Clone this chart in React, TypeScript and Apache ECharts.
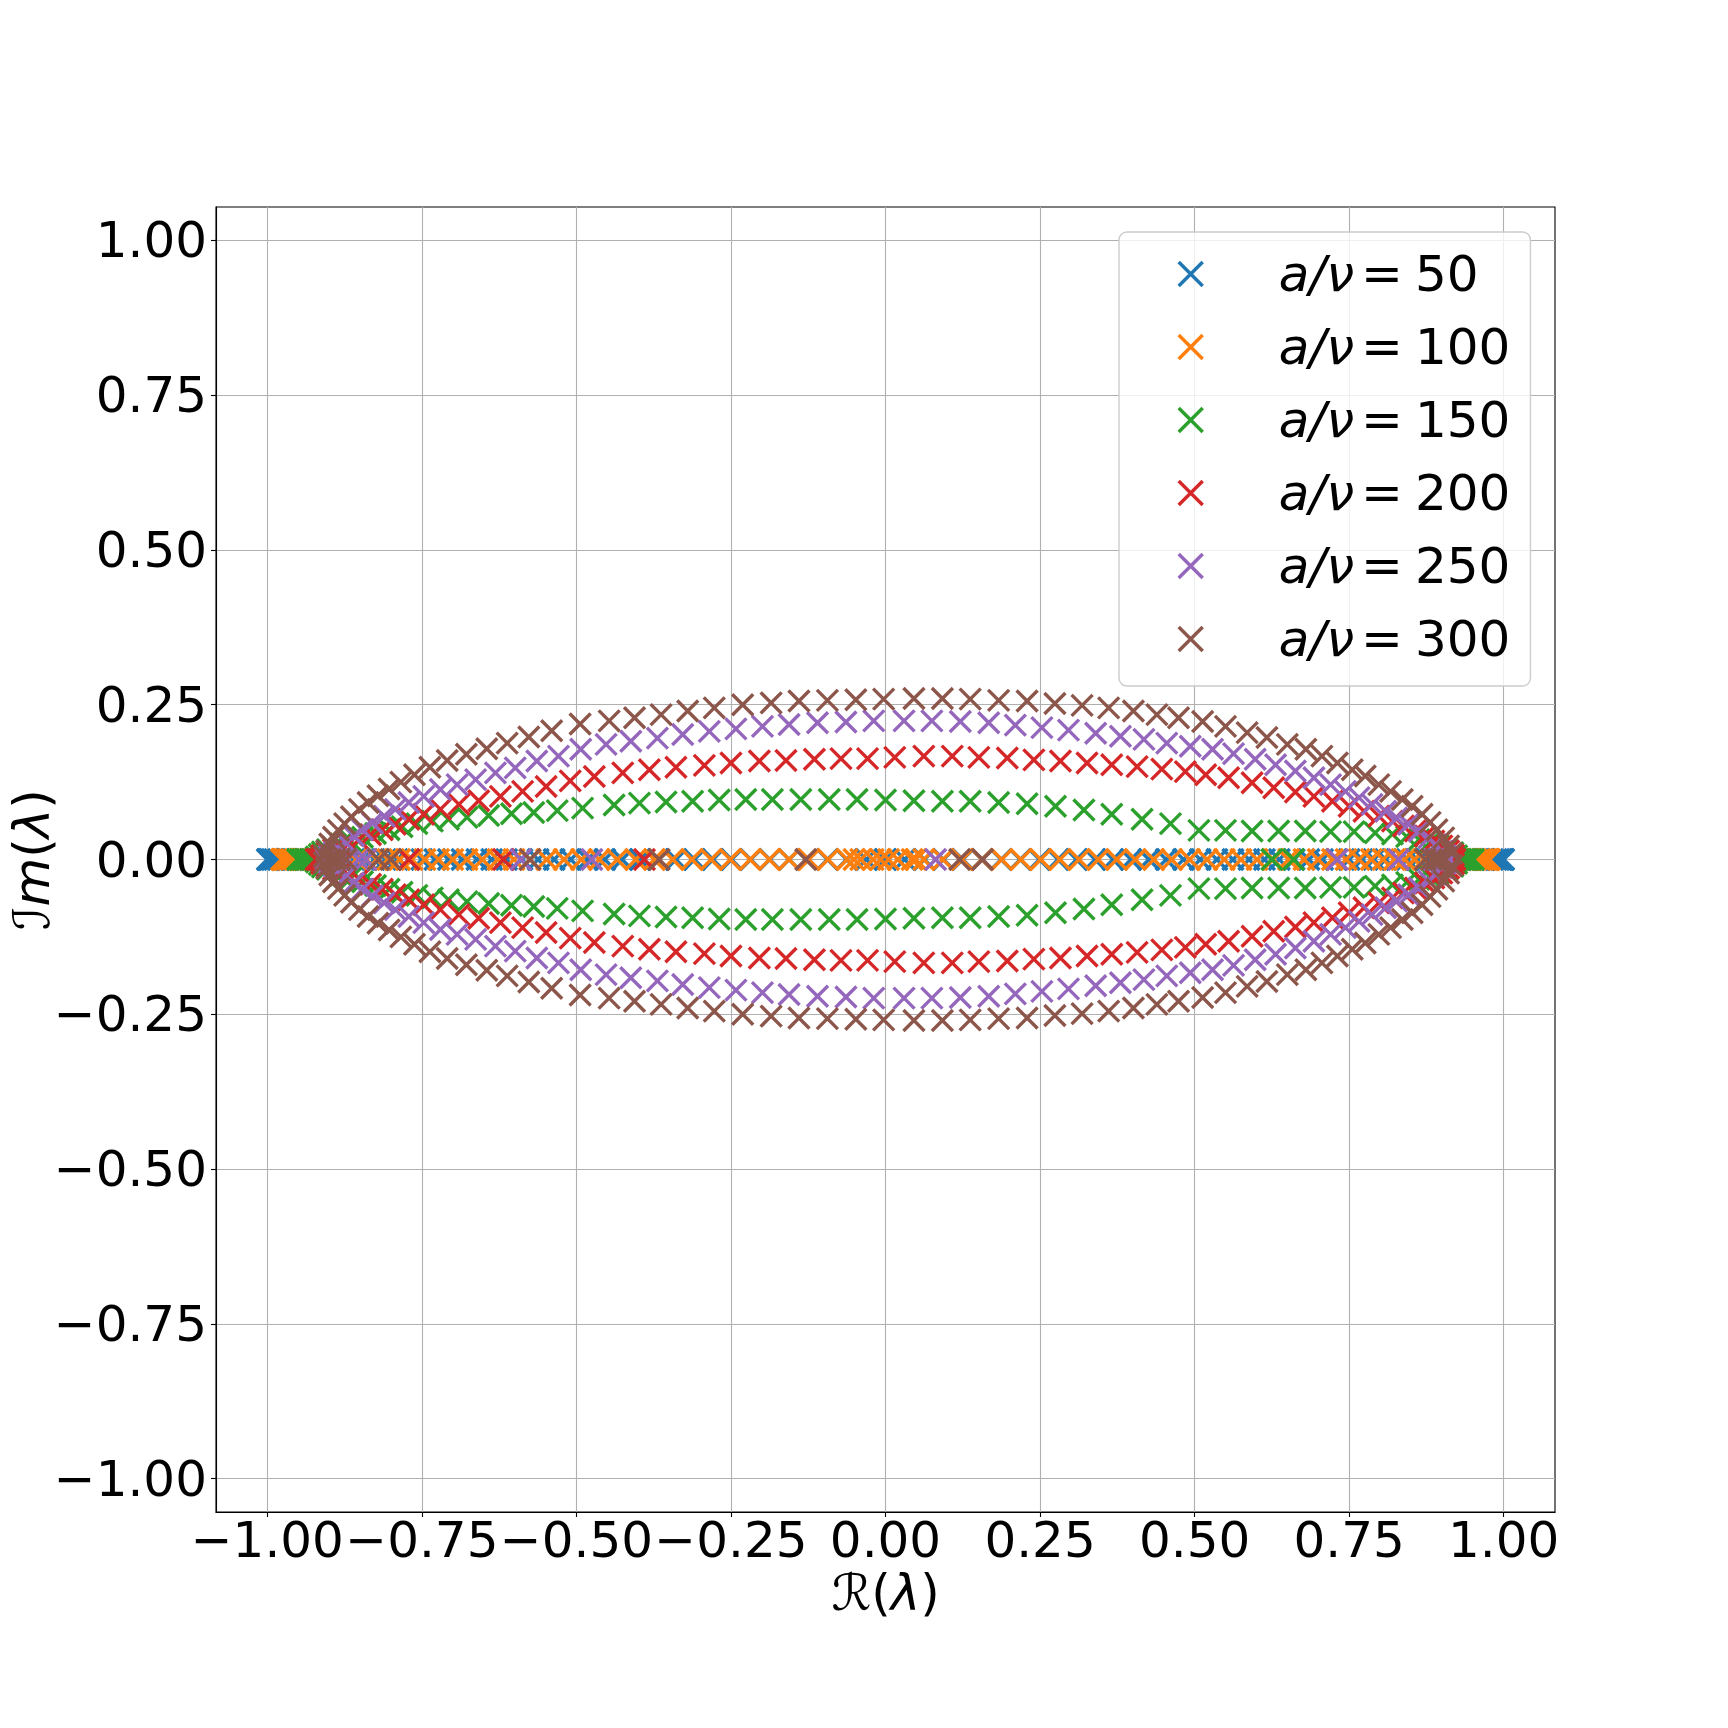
import React, { useEffect, useRef } from "react";
import * as echarts from "echarts";

const colors = ["#1f77b4", "#ff7f0e", "#2ca02c", "#d62728", "#9467bd", "#8c564b"];
const ratios = [50, 100, 150, 200, 250, 300];
const tickValues = [-1, -0.75, -0.5, -0.25, 0, 0.25, 0.5, 0.75, 1];

// a/nu = 50 : all eigenvalues real
const blueRe = [-1.0, -0.9995, -0.998, -0.9956, -0.992, -0.988, -0.982, -0.976, -0.968, -0.96, -0.951, -0.941, -0.929, -0.917, -0.904, -0.891, -0.876, -0.86, -0.844, -0.827, -0.809, -0.79, -0.771, -0.75, -0.729, -0.707, -0.685, -0.661, -0.637, -0.613, -0.588, -0.562, -0.536, -0.509, -0.482, -0.454, -0.426, -0.397, -0.368, -0.339, -0.309, -0.279, -0.249, -0.218, -0.187, -0.156, -0.125, -0.094, -0.063, -0.031, 0.0, 0.031, 0.063, 0.094, 0.125, 0.156, 0.187, 0.218, 0.249, 0.279, 0.309, 0.339, 0.368, 0.397, 0.426, 0.454, 0.482, 0.509, 0.536, 0.562, 0.588, 0.613, 0.637, 0.661, 0.685, 0.707, 0.729, 0.75, 0.771, 0.79, 0.809, 0.827, 0.844, 0.86, 0.876, 0.891, 0.904, 0.917, 0.929, 0.941, 0.951, 0.96, 0.968, 0.976, 0.982, 0.988, 0.992, 0.9956, 0.998, 0.9995, 1.0];

// a/nu = 100 : real
const orangeRe = [-0.977, -0.976, -0.975, -0.973, -0.97, -0.966, -0.961, -0.955, -0.948, -0.94, -0.931, -0.921, -0.91, -0.898, -0.885, -0.871, -0.856, -0.84, -0.823, -0.805, -0.786, -0.766, -0.745, -0.723, -0.7, -0.677, -0.652, -0.627, -0.601, -0.575, -0.548, -0.52, -0.492, -0.463, -0.434, -0.404, -0.374, -0.344, -0.313, -0.282, -0.251, -0.219, -0.188, -0.156, -0.124, -0.093, -0.062, -0.051, -0.04, -0.02, -0.008, 0.005, 0.02, 0.043, 0.049, 0.062, 0.093, 0.124, 0.156, 0.188, 0.219, 0.251, 0.282, 0.313, 0.344, 0.374, 0.404, 0.434, 0.463, 0.492, 0.52, 0.548, 0.575, 0.601, 0.627, 0.652, 0.677, 0.7, 0.723, 0.745, 0.766, 0.786, 0.805, 0.823, 0.84, 0.856, 0.871, 0.885, 0.898, 0.91, 0.921, 0.931, 0.94, 0.948, 0.955, 0.961, 0.966, 0.97, 0.973, 0.975, 0.976, 0.977];

// a/nu = 150
const greenRe = [-0.951, -0.947, -0.943, -0.939, -0.935, -0.931, -0.927, -0.923, 0.625, 0.66, 0.923, 0.927, 0.931, 0.935, 0.939, 0.943, 0.947, 0.951];
const greenUpper = [[-0.921, 0.004], [-0.916, 0.008], [-0.911, 0.012], [-0.903, 0.016], [-0.894, 0.02], [-0.881, 0.025], [-0.865, 0.03], [-0.846, 0.036], [-0.825, 0.042], [-0.803, 0.048], [-0.782, 0.053], [-0.758, 0.058], [-0.733, 0.062], [-0.707, 0.065], [-0.677, 0.068], [-0.642, 0.071], [-0.605, 0.074], [-0.569, 0.076], [-0.531, 0.079], [-0.49, 0.083], [-0.439, 0.088], [-0.398, 0.091], [-0.355, 0.093], [-0.312, 0.094], [-0.269, 0.096], [-0.226, 0.097], [-0.183, 0.097], [-0.137, 0.097], [-0.091, 0.097], [-0.046, 0.097], [0.0, 0.096], [0.046, 0.095], [0.092, 0.094], [0.137, 0.094], [0.183, 0.092], [0.229, 0.09], [0.275, 0.086], [0.321, 0.08], [0.366, 0.073], [0.415, 0.065], [0.461, 0.058], [0.507, 0.047], [0.55, 0.047], [0.593, 0.046], [0.636, 0.046], [0.679, 0.046], [0.72, 0.045], [0.758, 0.045], [0.792, 0.043], [0.82, 0.041], [0.843, 0.037], [0.863, 0.032], [0.88, 0.027], [0.895, 0.022], [0.909, 0.016], [0.918, 0.011], [0.924, 0.006]];
const greenLower = [[-0.921, -0.004], [-0.916, -0.008], [-0.911, -0.012], [-0.903, -0.016], [-0.894, -0.02], [-0.881, -0.025], [-0.865, -0.03], [-0.846, -0.036], [-0.825, -0.042], [-0.803, -0.048], [-0.782, -0.053], [-0.758, -0.058], [-0.733, -0.062], [-0.707, -0.065], [-0.677, -0.068], [-0.642, -0.071], [-0.605, -0.074], [-0.569, -0.076], [-0.531, -0.079], [-0.49, -0.083], [-0.439, -0.088], [-0.398, -0.091], [-0.355, -0.093], [-0.312, -0.094], [-0.269, -0.096], [-0.226, -0.097], [-0.183, -0.097], [-0.137, -0.097], [-0.091, -0.097], [-0.046, -0.097], [0.0, -0.096], [0.046, -0.095], [0.092, -0.094], [0.137, -0.094], [0.183, -0.092], [0.229, -0.09], [0.275, -0.086], [0.321, -0.08], [0.366, -0.073], [0.415, -0.065], [0.461, -0.058], [0.507, -0.047], [0.55, -0.047], [0.593, -0.046], [0.636, -0.046], [0.679, -0.046], [0.72, -0.045], [0.758, -0.045], [0.792, -0.043], [0.82, -0.041], [0.843, -0.037], [0.863, -0.032], [0.88, -0.027], [0.895, -0.022], [0.909, -0.016], [0.918, -0.011], [0.924, -0.006]];

// a/nu = 200
const redRe = [-0.921, -0.918, -0.915, -0.912, -0.771, -0.618, -0.39, 0.912, 0.915, 0.918, 0.921];
const redUpper = [[-0.912, 0.006], [-0.903, 0.011], [-0.893, 0.016], [-0.881, 0.021], [-0.868, 0.026], [-0.852, 0.032], [-0.833, 0.04], [-0.814, 0.048], [-0.793, 0.057], [-0.771, 0.065], [-0.747, 0.073], [-0.72, 0.081], [-0.69, 0.089], [-0.658, 0.095], [-0.623, 0.102], [-0.587, 0.11], [-0.549, 0.118], [-0.51, 0.127], [-0.471, 0.134], [-0.425, 0.14], [-0.382, 0.145], [-0.339, 0.149], [-0.293, 0.152], [-0.25, 0.156], [-0.204, 0.159], [-0.161, 0.16], [-0.115, 0.162], [-0.072, 0.163], [-0.029, 0.163], [0.015, 0.165], [0.062, 0.167], [0.108, 0.167], [0.151, 0.165], [0.197, 0.164], [0.24, 0.161], [0.283, 0.159], [0.326, 0.156], [0.366, 0.153], [0.407, 0.15], [0.447, 0.146], [0.485, 0.142], [0.518, 0.137], [0.555, 0.132], [0.593, 0.124], [0.628, 0.116], [0.663, 0.109], [0.693, 0.102], [0.723, 0.094], [0.75, 0.086], [0.774, 0.078], [0.798, 0.07], [0.82, 0.062], [0.838, 0.054], [0.857, 0.046], [0.873, 0.038], [0.887, 0.03], [0.9, 0.022], [0.911, 0.014], [0.919, 0.007]];
const redLower = [[-0.912, -0.006], [-0.903, -0.011], [-0.893, -0.016], [-0.881, -0.021], [-0.868, -0.026], [-0.852, -0.032], [-0.833, -0.04], [-0.814, -0.048], [-0.793, -0.057], [-0.771, -0.065], [-0.747, -0.073], [-0.72, -0.081], [-0.69, -0.089], [-0.658, -0.095], [-0.623, -0.102], [-0.587, -0.11], [-0.549, -0.118], [-0.51, -0.127], [-0.471, -0.134], [-0.425, -0.14], [-0.382, -0.145], [-0.339, -0.149], [-0.293, -0.152], [-0.25, -0.156], [-0.204, -0.159], [-0.161, -0.16], [-0.115, -0.162], [-0.072, -0.163], [-0.029, -0.163], [0.015, -0.165], [0.062, -0.167], [0.108, -0.167], [0.151, -0.165], [0.197, -0.164], [0.24, -0.161], [0.283, -0.159], [0.326, -0.156], [0.366, -0.153], [0.407, -0.15], [0.447, -0.146], [0.485, -0.142], [0.518, -0.137], [0.555, -0.132], [0.593, -0.124], [0.628, -0.116], [0.663, -0.109], [0.693, -0.102], [0.723, -0.094], [0.75, -0.086], [0.774, -0.078], [0.798, -0.07], [0.82, -0.062], [0.838, -0.054], [0.857, -0.046], [0.873, -0.038], [0.887, -0.03], [0.9, -0.022], [0.911, -0.014], [0.919, -0.007]];

// a/nu = 250
const purpleRe = [-0.905, -0.899, -0.893, -0.887, -0.852, -0.841, -0.59, -0.475, 0.081, 0.731, 0.83, 0.887, 0.893, 0.899, 0.905];
const purpleUpper = [[-0.9, 0.006], [-0.892, 0.011], [-0.884, 0.016], [-0.873, 0.027], [-0.86, 0.038], [-0.846, 0.048], [-0.83, 0.059], [-0.811, 0.07], [-0.793, 0.081], [-0.771, 0.092], [-0.747, 0.102], [-0.72, 0.113], [-0.693, 0.121], [-0.663, 0.129], [-0.631, 0.14], [-0.599, 0.148], [-0.564, 0.159], [-0.529, 0.167], [-0.493, 0.178], [-0.452, 0.186], [-0.412, 0.191], [-0.369, 0.196], [-0.328, 0.202], [-0.285, 0.207], [-0.242, 0.211], [-0.199, 0.215], [-0.156, 0.218], [-0.11, 0.221], [-0.064, 0.222], [-0.019, 0.224], [0.03, 0.224], [0.075, 0.224], [0.121, 0.223], [0.167, 0.221], [0.21, 0.217], [0.253, 0.213], [0.296, 0.209], [0.34, 0.204], [0.38, 0.199], [0.418, 0.194], [0.455, 0.188], [0.493, 0.183], [0.529, 0.178], [0.563, 0.171], [0.598, 0.162], [0.631, 0.153], [0.663, 0.143], [0.693, 0.132], [0.72, 0.121], [0.744, 0.11], [0.766, 0.1], [0.787, 0.089], [0.809, 0.078], [0.827, 0.067], [0.846, 0.057], [0.863, 0.046], [0.879, 0.035], [0.89, 0.024], [0.9, 0.013], [0.906, 0.006]];
const purpleLower = [[-0.9, -0.006], [-0.892, -0.011], [-0.884, -0.016], [-0.873, -0.027], [-0.86, -0.038], [-0.846, -0.048], [-0.83, -0.059], [-0.811, -0.07], [-0.793, -0.081], [-0.771, -0.092], [-0.747, -0.102], [-0.72, -0.113], [-0.693, -0.121], [-0.663, -0.129], [-0.631, -0.14], [-0.599, -0.148], [-0.564, -0.159], [-0.529, -0.167], [-0.493, -0.178], [-0.452, -0.186], [-0.412, -0.191], [-0.369, -0.196], [-0.328, -0.202], [-0.285, -0.207], [-0.242, -0.211], [-0.199, -0.215], [-0.156, -0.218], [-0.11, -0.221], [-0.064, -0.222], [-0.019, -0.224], [0.03, -0.224], [0.075, -0.224], [0.121, -0.223], [0.167, -0.221], [0.21, -0.217], [0.253, -0.213], [0.296, -0.209], [0.34, -0.204], [0.38, -0.199], [0.418, -0.194], [0.455, -0.188], [0.493, -0.183], [0.529, -0.178], [0.563, -0.171], [0.598, -0.162], [0.631, -0.153], [0.663, -0.143], [0.693, -0.132], [0.72, -0.121], [0.744, -0.11], [0.766, -0.1], [0.787, -0.089], [0.809, -0.078], [0.827, -0.067], [0.846, -0.057], [0.863, -0.046], [0.879, -0.035], [0.89, -0.024], [0.9, -0.013], [0.906, -0.006]];

// a/nu = 300
const brownRe = [-0.898, -0.891, -0.883, -0.873, -0.82, -0.8, -0.575, -0.366, -0.129, 0.12, 0.157, 0.873, 0.883, 0.891, 0.898];
const brownUpper = [[-0.908, 0.005], [-0.904, 0.014], [-0.899, 0.025], [-0.893, 0.036], [-0.885, 0.047], [-0.875, 0.058], [-0.864, 0.069], [-0.851, 0.081], [-0.837, 0.092], [-0.821, 0.103], [-0.803, 0.114], [-0.784, 0.125], [-0.762, 0.137], [-0.737, 0.149], [-0.709, 0.16], [-0.678, 0.17], [-0.645, 0.179], [-0.612, 0.188], [-0.577, 0.198], [-0.54, 0.208], [-0.494, 0.219], [-0.447, 0.224], [-0.406, 0.229], [-0.363, 0.234], [-0.32, 0.24], [-0.277, 0.245], [-0.231, 0.25], [-0.185, 0.253], [-0.14, 0.256], [-0.094, 0.257], [-0.048, 0.258], [-0.003, 0.259], [0.046, 0.26], [0.092, 0.26], [0.137, 0.259], [0.183, 0.257], [0.229, 0.256], [0.274, 0.252], [0.318, 0.249], [0.361, 0.245], [0.401, 0.24], [0.439, 0.234], [0.474, 0.229], [0.513, 0.223], [0.55, 0.215], [0.585, 0.205], [0.617, 0.197], [0.65, 0.186], [0.68, 0.178], [0.706, 0.167], [0.731, 0.156], [0.755, 0.145], [0.776, 0.135], [0.798, 0.121], [0.817, 0.11], [0.836, 0.097], [0.852, 0.086], [0.868, 0.073], [0.881, 0.06], [0.892, 0.048], [0.903, 0.035], [0.911, 0.022], [0.916, 0.01]];
const brownLower = [[-0.908, -0.005], [-0.904, -0.014], [-0.899, -0.025], [-0.893, -0.036], [-0.885, -0.047], [-0.875, -0.058], [-0.864, -0.069], [-0.851, -0.081], [-0.837, -0.092], [-0.821, -0.103], [-0.803, -0.114], [-0.784, -0.125], [-0.762, -0.137], [-0.737, -0.149], [-0.709, -0.16], [-0.678, -0.17], [-0.645, -0.179], [-0.612, -0.188], [-0.577, -0.198], [-0.54, -0.208], [-0.494, -0.219], [-0.447, -0.224], [-0.406, -0.229], [-0.363, -0.234], [-0.32, -0.24], [-0.277, -0.245], [-0.231, -0.25], [-0.185, -0.253], [-0.14, -0.256], [-0.094, -0.257], [-0.048, -0.258], [-0.003, -0.259], [0.046, -0.26], [0.092, -0.26], [0.137, -0.259], [0.183, -0.257], [0.229, -0.256], [0.274, -0.252], [0.318, -0.249], [0.361, -0.245], [0.401, -0.24], [0.439, -0.234], [0.474, -0.229], [0.513, -0.223], [0.55, -0.215], [0.585, -0.205], [0.617, -0.197], [0.65, -0.186], [0.68, -0.178], [0.706, -0.167], [0.731, -0.156], [0.755, -0.145], [0.776, -0.135], [0.798, -0.121], [0.817, -0.11], [0.836, -0.097], [0.852, -0.086], [0.868, -0.073], [0.881, -0.06], [0.892, -0.048], [0.903, -0.035], [0.911, -0.022], [0.916, -0.01]];

const realPts = (xs: number[]) => xs.map((x) => [x, 0]);
const seriesData = [
  realPts(blueRe),
  realPts(orangeRe),
  [...realPts(greenRe), ...greenUpper, ...greenLower],
  [...realPts(redRe), ...redUpper, ...redLower],
  [...realPts(purpleRe), ...purpleUpper, ...purpleLower],
  [...realPts(brownRe), ...brownUpper, ...brownLower],
];

const X_MARK = "path://M0,0L10,10M0,10L10,0";
const FONT = "DejaVu Sans";
const fmt = (v: number) => (v < 0 ? "\u2212" : "") + Math.abs(v).toFixed(2);

export default function App() {
  const ref = useRef<HTMLDivElement>(null);
  useEffect(() => {
    if (!ref.current) return;
    const chart = echarts.init(ref.current, null, { renderer: "svg" });
    const names = ratios.map((r) => `a/ν = ${r}`);
    const axisCommon = {
      type: "value",
      nameMoveOverlap: false,
      axisLine: { show: true, onZero: false, lineStyle: { color: "#000", width: 1.1 } },
      axisTick: { show: true, customValues: tickValues, length: 5, lineStyle: { color: "#000", width: 1.1 } },
      axisLabel: {
        customValues: tickValues,
        formatter: fmt,
        fontSize: 50,
        color: "#000",
        fontFamily: FONT,
        showMinLabel: true,
        showMaxLabel: true,
        hideOverlap: false,
      },
      splitLine: { show: true, lineStyle: { color: "#b0b0b0", width: 1.1 } },
      nameTextStyle: {
        fontSize: 50,
        fontFamily: FONT,
        color: "#000",
        rich: {
          r: { fontSize: 50, fontFamily: FONT, color: "#000" },
          i: { fontSize: 50, fontFamily: FONT, fontStyle: "italic", color: "#000" },
        },
      },
    };
    chart.setOption({
      animation: false,
      backgroundColor: "#ffffff",
      grid: {
        left: 216,
        right: 173,
        top: 207,
        bottom: 216,
        show: true,
        borderColor: "#000",
        borderWidth: 1.1,
        containLabel: false,
        outerBoundsMode: "none",
      },
      xAxis: {
        ...axisCommon,
        min: -1.083,
        max: 1.083,
        axisLabel: { ...axisCommon.axisLabel, margin: 3 },
        name: "{r|ℛ(}{i|λ}{r|)}",
        nameLocation: "middle",
        nameGap: 56,
      },
      yAxis: {
        ...axisCommon,
        min: -1.054,
        max: 1.054,
        axisLabel: { ...axisCommon.axisLabel, margin: 9 },
        name: "{r|ℐ}{i|m}{r|(}{i|λ}{r|)}",
        nameLocation: "middle",
        nameRotate: 90,
        nameGap: 159,
      },
      legend: {
        orient: "vertical",
        left: 1119,
        top: 232,
        padding: [17, 20, 22, 58],
        backgroundColor: "rgba(255,255,255,0.8)",
        borderColor: "#cccccc",
        borderWidth: 1.4,
        borderRadius: 8,
        itemWidth: 24,
        itemHeight: 24,
        itemGap: 23,
        itemStyle: { borderWidth: 3.4, opacity: 1 },
        data: names,
        formatter: (name: string) => {
          const num = name.split("= ")[1];
          return `{it|a/ν}{eq|=}{rm|${num}}`;
        },
        textStyle: {
          fontSize: 50,
          fontFamily: FONT,
          color: "#000",
          rich: {
            it: { fontSize: 50, fontFamily: FONT, fontStyle: "italic", color: "#000", padding: [0, 0, 0, 71] },
            eq: { fontSize: 50, fontFamily: FONT, color: "#000", padding: [0, 12, 0, 7] },
            rm: { fontSize: 50, fontFamily: FONT, color: "#000" },
          },
        },
      },
      series: seriesData.map((d, i) => ({
        type: "scatter",
        name: names[i],
        data: d,
        symbol: X_MARK,
        symbolSize: 21,
        itemStyle: { color: colors[i], borderColor: colors[i], borderWidth: 3.4, opacity: 1 },
        emphasis: { disabled: true },
      })),
    });
    return () => chart.dispose();
  }, []);
  return <div ref={ref} style={{ position: "absolute", left: 0, top: 0, width: 1728, height: 1728 }} />;
}
